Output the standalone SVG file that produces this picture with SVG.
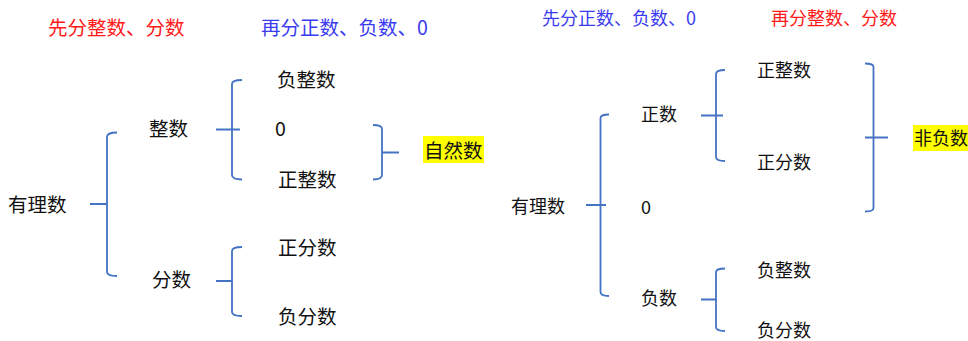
<svg xmlns="http://www.w3.org/2000/svg" width="968" height="341" viewBox="0 0 968 341">
<style>
text{font-family:"Noto Sans CJK SC","Microsoft YaHei",sans-serif;dominant-baseline:central;fill:#111}
.l{font-size:19.5px}
.r{font-size:18px}
.red{fill:#ff1a1a}
.blue{fill:#3b3bf0}
.br{fill:none;stroke:#4472c4;stroke-width:1.8}
.hl{fill:#ffff00}
</style>
<rect width="968" height="341" fill="#fff"/>
<g id="connectors">
<path class="br" d="M117,132.5 Q107,132.5 107,137 V272 Q107,276 117,276 M90,204 H107"/>
<path class="br" d="M242,80 Q232,80 232,84 V175 Q232,179.5 242,179.5 M216,129.5 H240"/>
<path class="br" d="M373,125 Q382,125 382,129 V175 Q382,179.5 373,179.5 M382,152.5 H399"/>
<path class="br" d="M242,247 Q232,247 232,251 V312 Q232,316 242,316 M216,281 H232"/>
<path class="br" d="M609,114.5 Q600.5,114.5 600.5,118 V292 Q600.5,296 609,296 M586,205 H606"/>
<path class="br" d="M725,70 Q716,70 716,74 V157 Q716,161 725,161 M701,115.5 H723"/>
<path class="br" d="M725,268.5 Q716,268.5 716,272 V327 Q716,331 725,331 M701,299.5 H716"/>
<path class="br" d="M865,63.5 Q873.5,63.5 873.5,67 V208 Q873.5,211.5 865,211.5 M865,137.5 H888"/>
</g>
<g id="h1"><text class="l red" x="48" y="26.5">先分整数、分数</text></g>
<g id="h2"><text class="l blue" x="261" y="26.5">再分正数、负数、0</text></g>
<g id="L_fuzhengshu"><text class="l" x="277" y="78.5">负整数</text></g>
<g id="L_zhengshu"><text class="l" x="149" y="127.5">整数</text></g>
<g id="L_zero"><text class="l" x="275" y="127.5">0</text></g>
<g id="L_zhengzhengshu"><text class="l" x="278" y="178.5">正整数</text></g>
<g id="L_ziranshu"><rect class="hl" x="423" y="136" width="61" height="27"/><text class="l" x="424" y="149">自然数</text></g>
<g id="L_youlishu"><text class="l" x="8" y="203.5">有理数</text></g>
<g id="L_zhengfenshu"><text class="l" x="278" y="246.5">正分数</text></g>
<g id="L_fenshu"><text class="l" x="152" y="278.5">分数</text></g>
<g id="L_fufenshu"><text class="l" x="278" y="315.5">负分数</text></g>
<g id="h3"><text class="r blue" x="542" y="16.5">先分正数、负数、0</text></g>
<g id="h4"><text class="r red" x="771" y="16.5">再分整数、分数</text></g>
<g id="R_zhengzhengshu"><text class="r" x="757" y="68.5">正整数</text></g>
<g id="R_zhengshu"><text class="r" x="641" y="112.5">正数</text></g>
<g id="R_zhengfenshu"><text class="r" x="757" y="160.5">正分数</text></g>
<g id="R_feifushu"><rect class="hl" x="913" y="125" width="55" height="26"/><text class="r" x="914" y="136.5">非负数</text></g>
<g id="R_youlishu"><text class="r" x="511" y="204.5">有理数</text></g>
<g id="R_zero"><text class="r" x="641" y="205.5">0</text></g>
<g id="R_fuzhengshu"><text class="r" x="757" y="268.5">负整数</text></g>
<g id="R_fushu"><text class="r" x="641" y="296.5">负数</text></g>
<g id="R_fufenshu"><text class="r" x="757" y="329">负分数</text></g>
</svg>
